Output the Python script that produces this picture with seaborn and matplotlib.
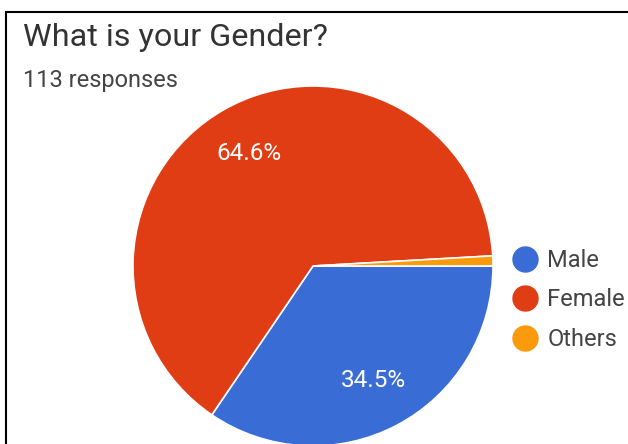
import matplotlib
matplotlib.use("Agg")
import matplotlib.pyplot as plt
from matplotlib.lines import Line2D
from matplotlib.patches import Rectangle
import seaborn as sns

# Survey answers
categories = ["Male", "Female", "Others"]
shares = [34.5, 64.6, 0.9]
colors = ["#3a6cd6", "#e03d15", "#fb9a0a"]
title = "What is your Gender?"
subtitle = "113 responses"

sns.set_theme(style="white")
plt.rcParams["font.family"] = ["Roboto", "DejaVu Sans"]

W, H = 628, 444
fig = plt.figure(figsize=(W / 100, H / 100), dpi=100)
fig.patch.set_facecolor("white")

# Pie placed in pixel terms: centre (313, 266), radius 180
cx, cy, r = 313, 266, 180
ax = fig.add_axes([(cx - r) / W, (H - cy - r) / H, 2 * r / W, 2 * r / H])
wedges, _, autotexts = ax.pie(
    shares,
    colors=colors,
    startangle=0,
    counterclock=False,
    autopct=lambda p: f"{p:.1f}%" if p > 5 else "",
    pctdistance=0.72,
    wedgeprops=dict(edgecolor="white", linewidth=1.2),
    textprops=dict(color="white", fontsize=17.5),
)
ax.set_xlim(-1, 1)
ax.set_ylim(-1, 1)
ax.set_aspect("equal")
ax.axis("off")

# Legend with round markers
handles = [Line2D([0], [0], marker="o", linestyle="none", markersize=18,
                  markerfacecolor=c, markeredgecolor=c) for c in colors]
fig.legend(handles, categories, loc="center left",
           bbox_to_anchor=(511 / W, 1 - 300 / H), frameon=False,
           fontsize=17, labelcolor="#444444", handletextpad=0.34,
           labelspacing=0.7, handlelength=1.2, borderpad=0,
           borderaxespad=0)

fig.text(23 / W, 1 - 38 / H, title, fontsize=23.3, color="#333333",
         va="center", ha="left")
fig.text(23 / W, 1 - 80 / H, subtitle, fontsize=17, color="#444444",
         va="center", ha="left")

# Card outline
fig.patches.append(Rectangle((6 / W, -0.1), 1.2, (H - 12) / H + 0.1,
                             transform=fig.transFigure, fill=False,
                             edgecolor="black", linewidth=1.5))

fig.savefig("out.png", dpi=100)
